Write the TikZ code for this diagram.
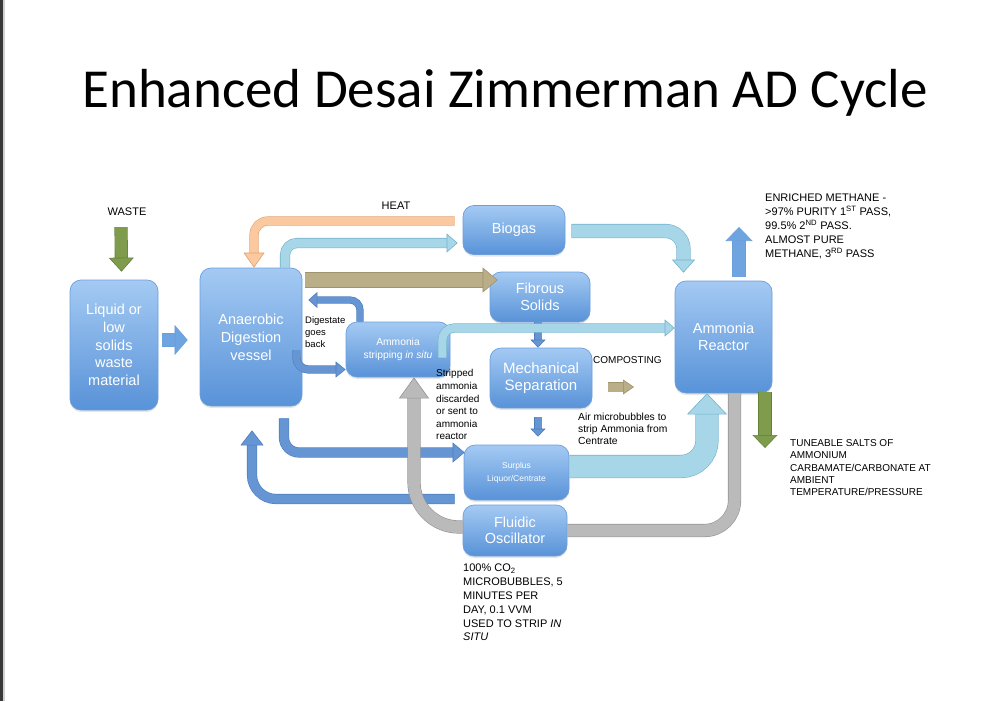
\documentclass[tikz,border=0pt]{standalone}
\usepackage{fontspec}
\setmainfont{Liberation Sans}
\newfontfamily\titlefont{Carlito}
\usetikzlibrary{arrows.meta,shadows}

\definecolor{boxtop}{RGB}{164,202,243}
\definecolor{boxbot}{RGB}{88,146,216}
\definecolor{boxline}{RGB}{108,158,218}
\definecolor{unitfill}{RGB}{110,164,224}
\definecolor{pipefill}{RGB}{101,149,210}
\definecolor{pipeline}{RGB}{78,126,188}
\definecolor{gasfill}{RGB}{166,214,231}
\definecolor{gasline}{RGB}{118,178,204}
\definecolor{greyfill}{RGB}{186,186,186}
\definecolor{greyline}{RGB}{148,148,148}
\definecolor{soilfill}{RGB}{186,174,136}
\definecolor{soilline}{RGB}{158,148,110}
\definecolor{heatfill}{RGB}{250,201,160}
\definecolor{heatline}{RGB}{228,160,108}
\definecolor{leaffill}{RGB}{126,156,76}
\definecolor{leafline}{RGB}{100,130,58}

\tikzset{
  unit/.style={rectangle, rounded corners=11pt, draw=boxline, line width=0.7pt,
    top color=boxtop, bottom color=boxbot, text=white, align=center, inner sep=2pt,
    drop shadow={opacity=0.2, shadow xshift=0pt, shadow yshift=-2pt}},
  note/.style={anchor=north west, align=left, inner sep=0pt},
  label/.style={inner sep=0pt},
  flow/.style n args={5}{draw=#1, line width=#3,
    -{Triangle[width=#4, length=#5, line width=0.6pt, color=#2, fill=#1]},
    preaction={draw=#2, line width=#3+1.2pt, shorten >=#5-0.8pt, arrows=-}},
  band/.style n args={3}{draw=#1, line width=#3,
    preaction={draw=#2, line width=#3+1.2pt}}
}

\begin{document}
\begin{tikzpicture}[x=1pt, y=-1pt]
\useasboundingbox (0,0) rectangle (1000,701);
\fill[black!78] (0,0) rectangle (3,701);
\fill[black!18] (3,0) rectangle (5,701);

% title
\node[label, anchor=base, font=\titlefont\fontsize{55}{60}\selectfont] (title) at (505,107) {Enhanced Desai Zimmerman AD Cycle};

% units
\node[unit, minimum width=88pt, minimum height=130pt, font=\fontsize{14.5}{17.8}\selectfont] (liquid) at (114,345)
  {Liquid or\\low\\solids\\waste\\material};
\node[unit, minimum width=102pt, minimum height=138pt, font=\fontsize{14.5}{18}\selectfont] (ad) at (251,337)
  {Anaerobic\\Digestion\\vessel};
\node[unit, minimum width=102pt, minimum height=49pt, font=\fontsize{14.5}{18}\selectfont] (biogas) at (514,230)
  {Biogas};
\node[unit, minimum width=100pt, minimum height=50pt, font=\fontsize{14.5}{17.5}\selectfont] (fibrous) at (540,297)
  {Fibrous\\Solids};
\node[unit, minimum width=104pt, minimum height=55pt, font=\fontsize{10.3}{13}\selectfont] (strip) at (398,349.5)
  {Ammonia\\stripping \textit{in situ}};
\node[unit, minimum width=102pt, minimum height=60pt, font=\fontsize{15}{16.5}\selectfont] (mech) at (541,378)
  {Mechanical\\Separation};
\node[unit, minimum width=97pt, minimum height=112pt, font=\fontsize{14.5}{17.5}\selectfont] (reactor) at (723.5,337)
  {Ammonia\\Reactor};
\node[unit, minimum width=105pt, minimum height=55pt, font=\fontsize{8.5}{13}\selectfont] (surplus) at (516.5,472.5)
  {Surplus\\Liquor/Centrate};
\node[unit, minimum width=104pt, minimum height=51pt, font=\fontsize{14.5}{16}\selectfont] (fluidic) at (515,530.5)
  {Fluidic\\Oscillator};

% labels
\node[label, font=\fontsize{11}{13}\selectfont] (waste) at (127,212) {WASTE};
\node[label, font=\fontsize{11}{13}\selectfont] (heat) at (396,206) {HEAT};
\node[label, anchor=west, font=\fontsize{10}{12}\selectfont] (composting) at (593,360) {COMPOSTING};
\node[note, font=\fontsize{9.5}{12}\selectfont] (digestate) at (305,316.6)
  {Digestate\\goes\\back};
\node[note, font=\fontsize{10}{12.6}\selectfont] (stripped) at (436,369.4)
  {Stripped\\ammonia\\discarded\\or sent to\\ammonia\\reactor};
\node[note, font=\fontsize{10.3}{11.7}\selectfont] (airbubbles) at (578,413.3)
  {Air microbubbles to\\strip Ammonia from\\Centrate};
\node[note, font=\fontsize{11}{13.8}\selectfont] (enriched) at (765,194)
  {ENRICHED METHANE -\\>97\% PURITY 1\textsuperscript{ST} PASS,\\99.5\% 2\textsuperscript{ND} PASS.\\ALMOST PURE\\METHANE, 3\textsuperscript{RD} PASS};
\node[note, font=\fontsize{10}{12.3}\selectfont] (tuneable) at (790,439.4)
  {TUNEABLE SALTS OF\\AMMONIUM\\CARBAMATE/CARBONATE AT\\AMBIENT\\TEMPERATURE/PRESSURE};
\node[note, font=\fontsize{11}{13.8}\selectfont] (microbubbles) at (463,564)
  {100\% CO\textsubscript{2}\\MICROBUBBLES, 5\\MINUTES PER\\DAY, 0.1 VVM\\USED TO STRIP \textit{IN}\\\textit{SITU}};

\coordinate (compost) at (634,387);
\coordinate (methane) at (739,227);
\coordinate (salts) at (765,448);

% feed
\draw[flow={leaffill}{leafline}{12pt}{25pt}{14pt}] ([xshift=-6pt,yshift=-11pt]waste.south) -- ([xshift=7.5pt,yshift=8pt]liquid.north);
\draw[flow={unitfill}{boxline}{12pt}{30pt}{13pt}] ([xshift=4pt,yshift=5pt]liquid.east) -- ([xshift=-12pt,yshift=-3pt]ad.west);

% gas and heat
\draw[flow={heatfill}{heatline}{8pt}{21pt}{15pt}, rounded corners=14pt] ([xshift=-8pt,yshift=9pt]biogas.west) -| ([xshift=3pt]ad.north);
\draw[flow={gasfill}{gasline}{9pt}{19pt}{11pt}, rounded corners=12pt] ([xshift=34pt]ad.north) |- ([xshift=-5pt,yshift=-13pt]biogas.west);
\draw[flow={gasfill}{gasline}{13pt}{23pt}{13pt}, rounded corners=18pt] ([xshift=6pt,yshift=-1pt]biogas.east) -| ([xshift=-40pt,yshift=8pt]reactor.north);

% solids
\draw[flow={soilfill}{soilline}{14pt}{25pt}{15pt}] ([xshift=3pt,yshift=57pt]ad.east) -- ([xshift=8pt,yshift=17pt]fibrous.west);
\draw[flow={pipefill}{pipeline}{7pt}{15pt}{8pt}] ([xshift=-2pt]fibrous.south) -- ([xshift=-3pt]mech.north);
\draw[flow={pipefill}{pipeline}{7pt}{15pt}{8pt}] ([xshift=-3pt,yshift=-9pt]mech.south) -- ([xshift=21.5pt,yshift=8pt]surplus.north);
\draw[flow={soilfill}{soilline}{9pt}{15pt}{11pt}] ([xshift=16pt,yshift=-9pt]mech.east) -- (compost);

% digestate loop
\draw[flow={pipefill}{pipeline}{6pt}{16pt}{9pt}, rounded corners=10pt] ([xshift=-38pt]strip.north) |- ([xshift=6pt,yshift=37pt]ad.east);
\draw[flow={pipefill}{pipeline}{7pt}{16pt}{10pt}, rounded corners=12pt] ([xshift=-6pt,yshift=-13pt]ad.east) |- ([yshift=-20pt]strip.west);
\draw[flow={gasfill}{gasline}{8pt}{17pt}{10pt}, rounded corners=12pt] ([xshift=-8pt,yshift=-8pt]strip.east) |- ([yshift=9pt]reactor.west);
\draw[flow={pipefill}{pipeline}{9pt}{20pt}{12pt}, rounded corners=15pt] ([xshift=33pt,yshift=-12pt]ad.south) |- ([xshift=1pt,yshift=20pt]surplus.west);
\draw[flow={pipefill}{pipeline}{9pt}{23pt}{15pt}, rounded corners=24pt] ([xshift=-9pt,yshift=-26.5pt]surplus.west) -| ([xshift=1pt,yshift=-24pt]ad.south);

% oscillator
\draw[flow={greyfill}{greyline}{12pt}{30pt}{21pt}, rounded corners=45pt] ([yshift=3.5pt]fluidic.west) -| ([xshift=16pt]strip.south);
\draw[band={greyfill}{greyline}{12pt}, rounded corners=30pt] (fluidic.east) -| ([xshift=11pt]reactor.south);
\draw[flow={gasfill}{gasline}{22pt}{40pt}{21pt}, rounded corners=26pt] ([yshift=6pt]surplus.east) -| ([xshift=-16.5pt]reactor.south);

% products
\draw[flow={unitfill}{boxline}{12pt}{27pt}{14pt}] ([xshift=15.5pt,yshift=4pt]reactor.north) -- (methane);
\draw[flow={leaffill}{leafline}{12pt}{25pt}{13pt}] ([xshift=41.5pt,yshift=1pt]reactor.south) -- (salts);

\end{tikzpicture}
\end{document}
